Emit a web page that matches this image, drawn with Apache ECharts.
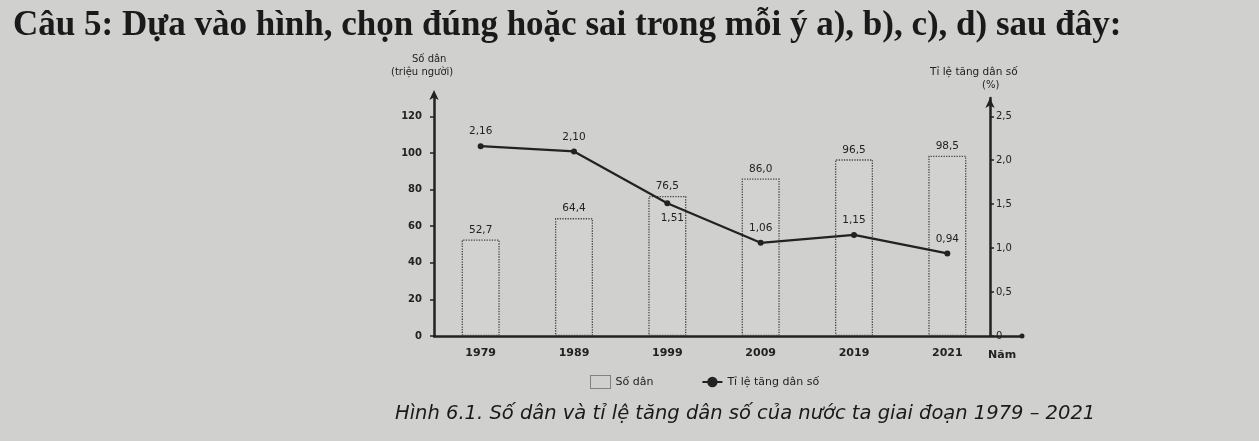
<!DOCTYPE html>
<html><head><meta charset="utf-8">
<script src="https://cdn.jsdelivr.net/npm/echarts@6/dist/echarts.min.js"></script>
<style>html,body{margin:0;padding:0;background:#d0d0ce}#c{width:1259px;height:441px}</style>
</head><body><div id="c"></div>
<script>
const years = ['1979','1989','1999','2009','2019','2021'];
const population = [52.7, 64.4, 76.5, 86.0, 96.5, 98.5];
const growthRate = [2.16, 2.10, 1.51, 1.06, 1.15, 0.94];
const leftTicks = [0, 20, 40, 60, 80, 100, 120];
const rightTicks = [0, 0.5, 1.0, 1.5, 2.0, 2.5];

const comma = (v, d) => v.toFixed(d).replace('.', ',');
const ink = '#222';
const F = '"DejaVu Sans"';
const chart = echarts.init(document.getElementById('c'));
const lineLabelPos = ['top','top','bottom','top','top','top'];

chart.setOption({
  backgroundColor: '#d0d0ce',
  animation: false,
  title: {
    text: 'Câu 5: Dựa vào hình, chọn đúng hoặc sai trong mỗi ý a), b), c), d) sau đây:',
    left: 8, top: 3,
    textStyle: {fontFamily: 'Liberation Serif', fontWeight: 'bold', fontSize: 35, color: '#1a1a1a'}
  },
  legend: {
    left: 585, top: 370, itemGap: 48, itemWidth: 20, itemHeight: 13,
    textStyle: {fontFamily: 'DejaVu Sans', fontSize: 11, color: ink},
    data: [
      {name: 'Số dân', icon: 'rect', itemStyle: {color: 'rgba(0,0,0,0)', borderColor: '#333', borderType: 'dotted', borderWidth: 1}},
      {name: 'Tỉ lệ tăng dân số'}
    ]
  },
  graphic: [
    {type: 'text', left: 988, top: 350, style: {text: 'Năm', font: 'bold 11px ' + F, fill: ink}},
    {type: 'text', left: 412, top: 54, style: {text: 'Số dân', font: '10px ' + F, fill: ink}},
    {type: 'text', left: 391, top: 67, style: {text: '(triệu người)', font: '10px ' + F, fill: ink}},
    {type: 'text', left: 930, top: 67, style: {text: 'Tỉ lệ tăng dân số', font: '10.5px ' + F, fill: ink}},
    {type: 'text', left: 982, top: 80, style: {text: '(%)', font: '10px ' + F, fill: ink}},
    {type: 'text', left: 395, top: 404, style: {text: 'Hình 6.1. Số dân và tỉ lệ tăng dân số của nước ta giai đoạn 1979 – 2021', font: 'italic 19.5px ' + F, fill: '#1a1a1a'}}
  ],
  grid: {left: 434, right: 237, top: 98, bottom: 105},
  xAxis: {
    type: 'value', min: -0.5, max: 5.8, interval: 0.5,
    splitLine: {show: false},
    axisTick: {show: false},
    axisLine: {lineStyle: {color: ink, width: 2.5}, symbol: ['none', 'circle'], symbolSize: [5, 5]},
    axisLabel: {
      showMinLabel: false, showMaxLabel: false, margin: 12,
      fontFamily: 'DejaVu Sans', fontWeight: 'bold', fontSize: 11, color: ink,
      formatter: v => (Number.isInteger(v) && years[v]) ? years[v] : ''
    }
  },
  yAxis: [
    {
      type: 'value', min: 0, max: 130, interval: 20,
      splitLine: {show: false},
      axisLine: {show: true, onZero: false, lineStyle: {color: ink, width: 2.5}, symbol: ['none', 'arrow'], symbolSize: [7, 10], symbolOffset: [0, 8]},
      axisTick: {show: true, inside: false, length: 4, lineStyle: {color: ink, width: 1.5}},
      axisLabel: {showMaxLabel: false, margin: 12, fontFamily: 'DejaVu Sans', fontWeight: 'bold', fontSize: 10, color: ink}
    },
    {
      type: 'value', min: 0, max: 130 / 120 * 2.5, interval: 0.5, position: 'right', offset: -32,
      splitLine: {show: false},
      axisLine: {show: true, onZero: false, lineStyle: {color: ink, width: 2.5}, symbol: ['none', 'arrow'], symbolSize: [7, 10], symbolOffset: [0, 0]},
      axisTick: {show: true, length: 4, lineStyle: {color: ink, width: 1.5}},
      axisLabel: {showMaxLabel: false, margin: 6, fontFamily: 'DejaVu Sans', fontSize: 10, color: ink,
        formatter: v => v === 0 ? '0' : comma(v, 1)}
    }
  ],
  series: [
    {
      name: 'Số dân', type: 'bar', yAxisIndex: 0, barWidth: 38,
      data: population.map((v, i) => [i, v]),
      itemStyle: {color: 'rgba(255,255,255,0.06)', borderColor: '#444', borderType: 'dotted', borderWidth: 1.3},
      label: {show: true, position: 'top', distance: 4, fontFamily: 'DejaVu Sans', fontSize: 10.5, color: ink,
        formatter: p => comma(p.value[1], 1)}
    },
    {
      name: 'Tỉ lệ tăng dân số', type: 'line', yAxisIndex: 1,
      data: growthRate.map((v, i) => ({value: [i, v], label: {position: lineLabelPos[i], offset: lineLabelPos[i] === 'bottom' ? [5, 0] : [0, 0]}})),
      lineStyle: {color: ink, width: 2.2},
      itemStyle: {color: ink},
      symbol: 'circle', symbolSize: 6,
      label: {show: true, distance: 6, fontFamily: 'DejaVu Sans', fontSize: 10.5, color: ink,
        formatter: p => comma(p.value[1], 2)}
    }
  ]
});
</script></body></html>
